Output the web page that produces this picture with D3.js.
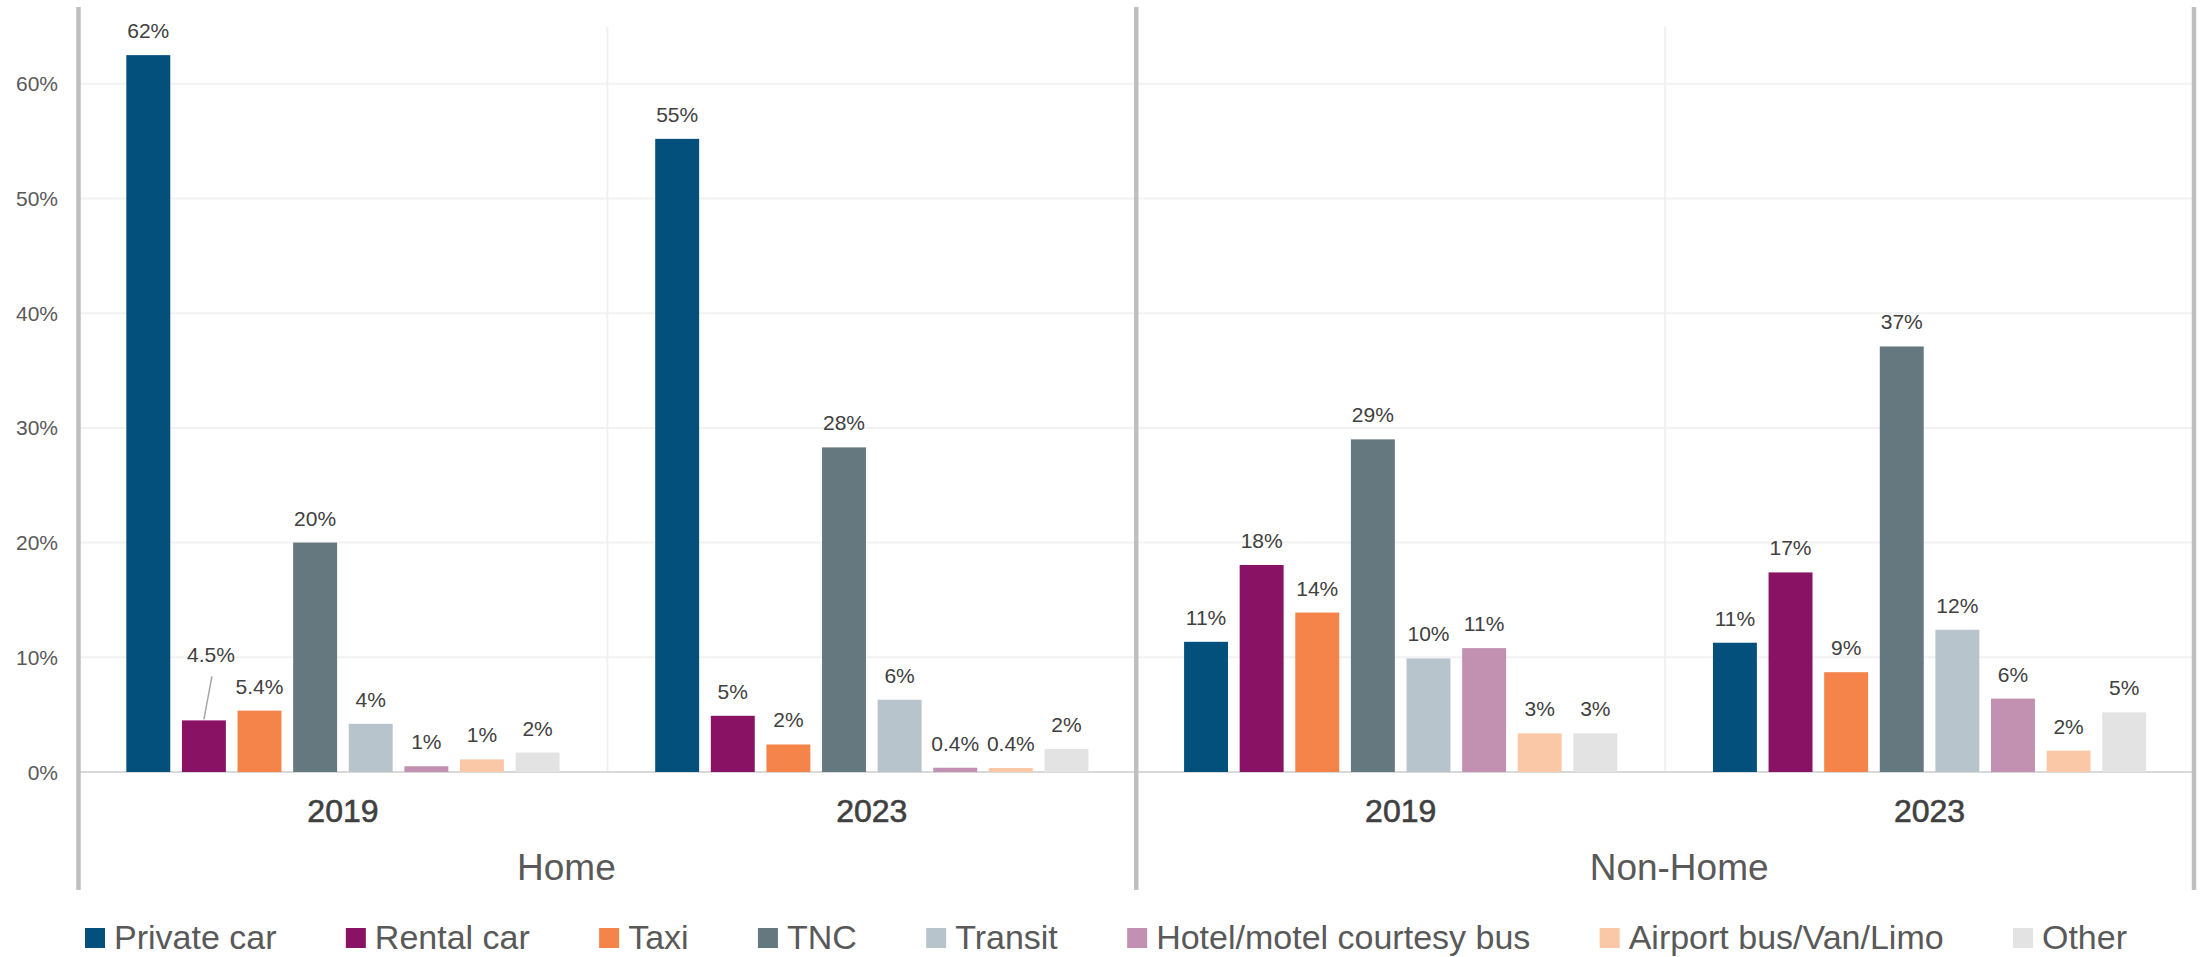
<!DOCTYPE html>
<html><head><meta charset="utf-8">
<script src="https://cdn.jsdelivr.net/npm/d3@7"></script>
<style>
body{margin:0;background:#fff}
svg{display:block}
text{font-family:"Liberation Sans",Arial,sans-serif}
</style>
</head><body>
<svg id="c" width="2207" height="957"></svg>
<script>
// ---------- data ----------
const series = ["Private car","Rental car","Taxi","TNC","Transit","Hotel/motel courtesy bus","Airport bus/Van/Limo","Other"];
const colors = ["#03507d","#8a1265","#f4844a","#65777f","#b8c4cb","#c291b2","#fbc8a7","#e3e3e3"];
const panels = ["Home","Non-Home"];
const years = ["2019","2023"];
const homeValues2019 = [62.5,4.5,5.35,20.0,4.2,0.5,1.1,1.7];
const homeLabels2019 = ["62%","4.5%","5.4%","20%","4%","1%","1%","2%"];
const homeValues2023 = [55.2,4.9,2.4,28.3,6.3,0.37,0.35,2.0];
const homeLabels2023 = ["55%","5%","2%","28%","6%","0.4%","0.4%","2%"];
const nonHomeValues2019 = [11.35,18.05,13.9,29.0,9.9,10.8,3.37,3.37];
const nonHomeLabels2019 = ["11%","18%","14%","29%","10%","11%","3%","3%"];
const nonHomeValues2023 = [11.27,17.4,8.7,37.1,12.4,6.4,1.86,5.2];
const nonHomeLabels2023 = ["11%","17%","9%","37%","12%","6%","2%","5%"];
const yTicks = [0,10,20,30,40,50,60];

// ---------- build table ----------
const groups = [
  {panel:"Home", year:"2019", values:homeValues2019, labels:homeLabels2019},
  {panel:"Home", year:"2023", values:homeValues2023, labels:homeLabels2023},
  {panel:"Non-Home", year:"2019", values:nonHomeValues2019, labels:nonHomeLabels2019},
  {panel:"Non-Home", year:"2023", values:nonHomeValues2023, labels:nonHomeLabels2023}
];
const rows = [];
groups.forEach(g => series.forEach((s,i) => rows.push({panel:g.panel, year:g.year, series:s, i, value:g.values[i], label:g.labels[i]})));

// ---------- layout ----------
const svg = d3.select("#c");
const frameTop = 7, frameBottom = 890;
const y = d3.scaleLinear().domain([0,60]).range([772, 83.8]);
const xPanel = d3.scaleBand().domain(panels).range([78.5, 2194]);
const xYear = d3.scaleBand().domain(years).range([0, xPanel.bandwidth()]);
const xBar = d3.scaleBand().domain(series).range([0, xYear.bandwidth()]).paddingInner(0.21).paddingOuter(0.86);
const color = d3.scaleOrdinal().domain(series).range(colors);
const xLeft = xPanel.range()[0], xRight = xPanel.range()[1];

// gridlines
svg.append("g").selectAll("line").data(yTicks.filter(d => d > 0)).join("line")
  .attr("x1", xLeft + 2).attr("x2", xRight - 2)
  .attr("y1", d => y(d)).attr("y2", d => y(d))
  .attr("stroke", "#f2f2f2").attr("stroke-width", 2);

// group dividers
svg.append("g").selectAll("line").data(panels).join("line")
  .attr("x1", p => xPanel(p) + xYear.bandwidth()).attr("x2", p => xPanel(p) + xYear.bandwidth())
  .attr("y1", 27).attr("y2", y(0))
  .attr("stroke", "#f0f0f0").attr("stroke-width", 2);

// baseline
svg.append("line").attr("x1", xLeft).attr("x2", xRight).attr("y1", y(0)).attr("y2", y(0))
  .attr("stroke", "#d9d9d9").attr("stroke-width", 2.2);

const bx = d => xPanel(d.panel) + xYear(d.year) + xBar(d.series);

// bars
svg.append("g").selectAll("rect").data(rows).join("rect")
  .attr("x", bx)
  .attr("y", d => y(d.value))
  .attr("width", xBar.bandwidth())
  .attr("height", d => y(0) - y(d.value))
  .attr("fill", d => color(d.series));

// data labels
const isLeader = d => d.panel === "Home" && d.year === "2019" && d.series === "Rental car";
svg.append("g").selectAll("text").data(rows).join("text")
  .attr("x", d => bx(d) + xBar.bandwidth()/2 + (isLeader(d) ? 7 : 0))
  .attr("y", d => y(d.value) - (isLeader(d) ? 58 : 17))
  .attr("text-anchor", "middle")
  .attr("font-size", 21).attr("fill", "#404040")
  .text(d => d.label);

rows.filter(isLeader).forEach(d => {
  const cx = bx(d) + xBar.bandwidth()/2;
  svg.append("line")
    .attr("x1", cx + 8).attr("y1", y(d.value) - 44)
    .attr("x2", cx).attr("y2", y(d.value) - 1)
    .attr("stroke", "#a6a6a6").attr("stroke-width", 1.5);
});

// frame lines
const frameXs = [xLeft, xPanel("Non-Home"), xRight];
svg.append("g").selectAll("line").data(frameXs).join("line")
  .attr("x1", d => d).attr("x2", d => d)
  .attr("y1", frameTop).attr("y2", frameBottom)
  .attr("stroke", "#bfbfbf").attr("stroke-width", 4.5);

// y tick labels
svg.append("g").selectAll("text").data(yTicks).join("text")
  .attr("x", 58).attr("y", d => y(d)).attr("dy", "0.36em")
  .attr("text-anchor", "end").attr("font-size", 21).attr("fill", "#595959")
  .text(d => d3.format(".0%")(d/100));

// year labels
svg.append("g").selectAll("text").data(groups).join("text")
  .attr("x", g => xPanel(g.panel) + xYear(g.year) + xYear.bandwidth()/2)
  .attr("y", 822)
  .attr("text-anchor", "middle")
  .attr("font-size", 32).attr("fill", "#404040")
  .attr("stroke", "#404040").attr("stroke-width", 0.6)
  .text(g => g.year);

// panel labels
const panelOffset = {"Home": -41, "Non-Home": 14};
svg.append("g").selectAll("text").data(panels).join("text")
  .attr("x", p => xPanel(p) + xPanel.bandwidth()/2 + panelOffset[p])
  .attr("y", 880)
  .attr("text-anchor", "middle")
  .attr("font-size", 37).attr("fill", "#595959")
  .text(p => p);

// legend
const lg = svg.append("g");
const items = lg.selectAll("g").data(series).join("g");
items.append("rect").attr("x", 0).attr("y", 928).attr("width", 20).attr("height", 20).attr("fill", d => color(d));
items.append("text").attr("x", 29).attr("y", 949).attr("font-size", 34).attr("fill", "#595959").text(d => d);
const widths = [];
items.each(function(){ widths.push(29 + d3.select(this).select("text").node().getComputedTextLength()); });
const legStart = 85, legEnd = 2127;
const gap = (legEnd - legStart - d3.sum(widths)) / (series.length - 1);
let cur = legStart;
items.each(function(d,i){ d3.select(this).attr("transform", `translate(${cur},0)`); cur += widths[i] + gap; });
</script>
</body></html>
